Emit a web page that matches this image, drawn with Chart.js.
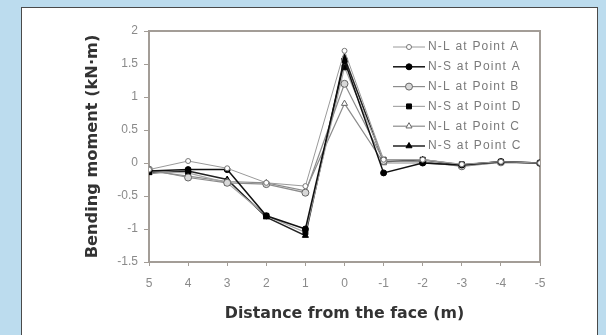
<!DOCTYPE html>
<html><head><meta charset="utf-8">
<script src="https://cdn.jsdelivr.net/npm/chart.js@4/dist/chart.umd.min.js"></script>
<style>
html,body{margin:0;padding:0;width:606px;height:335px;overflow:hidden;background:#bcdcee;}
#frame{position:absolute;left:21px;top:7px;width:575px;height:340px;background:#fff;border:1px solid #4a4a4a;}
#wrap{position:absolute;left:0;top:0;width:606px;height:335px;}
</style></head><body>
<div id="frame"></div>
<div id="wrap"><canvas id="c" width="606" height="335"></canvas></div>
<script>
// Distance from the face (m)
const distances = [5, 4, 3, 2, 1, 0, -1, -2, -3, -4, -5];
// Bending moment (kN·m)
const nlPointA = [-0.10, 0.03, -0.08, -0.30, -0.35, 1.70, 0.05, 0.05, -0.02, 0.02, 0.00];
const nsPointA = [-0.12, -0.10, -0.10, -0.80, -1.00, 1.55, -0.15, 0.00, -0.03, 0.02, 0.00];
const nlPointB = [-0.10, -0.22, -0.30, -0.32, -0.45, 1.20, 0.03, 0.02, -0.05, 0.01, 0.00];
const nsPointD = [-0.13, -0.15, -0.30, -0.80, -1.05, 1.45, 0.05, 0.05, -0.02, 0.02, 0.00];
const nlPointC = [-0.12, -0.20, -0.28, -0.30, -0.42, 0.90, 0.00, 0.00, -0.04, 0.01, 0.00];
const nsPointC = [-0.15, -0.12, -0.25, -0.82, -1.10, 1.60, 0.02, 0.05, -0.03, 0.02, 0.00];
const seriesNames = ['N-L at Point A', 'N-S at Point A', 'N-L at Point B', 'N-S at Point D', 'N-L at Point C', 'N-S at Point C'];
const yTickValues = [-1.5, -1, -0.5, 0, 0.5, 1, 1.5, 2];
const xTickValues = [5, 4, 3, 2, 1, 0, -1, -2, -3, -4, -5];

const seriesValues = [nlPointA, nsPointA, nlPointB, nsPointD, nlPointC, nsPointC];
const styles = [
  {line:'#9a9a9a', w:1,   ps:'circle',   r:2.5, bg:'#ffffff', bd:'#777'},
  {line:'#111111', w:1.5, ps:'circle',   r:3,   bg:'#000000', bd:'#000'},
  {line:'#8c8c8c', w:1.2, ps:'circle',   r:3.5, bg:'#d8d8d8', bd:'#666'},
  {line:'#a8a8a8', w:1.2, ps:'rect',     r:3.5, bg:'#000000', bd:'#000'},
  {line:'#8c8c8c', w:1.2, ps:'triangle', r:3.5, bg:'#ffffff', bd:'#666'},
  {line:'#222222', w:1.5, ps:'triangle', r:3.5, bg:'#000000', bd:'#000'}
];

const datasets = seriesValues.map((vals, i) => ({
  label: seriesNames[i],
  data: distances.map((d, j) => ({x: d, y: vals[j]})),
  borderColor: styles[i].line,
  borderWidth: styles[i].w,
  pointStyle: styles[i].ps,
  pointRadius: styles[i].r,
  pointBackgroundColor: styles[i].bg,
  pointBorderColor: styles[i].bd,
  pointBorderWidth: 1,
  tension: 0,
  fill: false
}));

const framePlugin = {
  id: 'frame',
  beforeDatasetsDraw(chart) {
    const {ctx, chartArea: a} = chart;
    ctx.save();
    ctx.strokeStyle = '#a39d97';
    ctx.lineWidth = 2;
    ctx.strokeRect(a.left, a.top, a.right - a.left, a.bottom - a.top);
    ctx.restore();
  }
};

const legendPlugin = {
  id: 'insideLegend',
  afterDraw(chart) {
    const ctx = chart.ctx;
    ctx.save();
    chart.data.datasets.forEach((ds, i) => {
      const y = 47 + i * 19.8;
      ctx.strokeStyle = ds.borderColor;
      ctx.lineWidth = ds.borderWidth;
      ctx.beginPath(); ctx.moveTo(393, y); ctx.lineTo(425, y); ctx.stroke();
      ctx.fillStyle = ds.pointBackgroundColor;
      ctx.strokeStyle = ds.pointBorderColor;
      ctx.lineWidth = 1;
      Chart.helpers.drawPoint(ctx, {pointStyle: ds.pointStyle, radius: ds.pointRadius, rotation: 0, borderWidth: 1}, 409, y);
      ctx.fillStyle = '#7a7a7a';
      ctx.font = '12px "Liberation Sans", Arial, sans-serif';
      if ('letterSpacing' in ctx) ctx.letterSpacing = '1.2px';
      ctx.textBaseline = 'middle';
      ctx.textAlign = 'left';
      ctx.fillText(ds.label, 428, y);
    });
    ctx.restore();
  }
};

new Chart(document.getElementById('c'), {
  type: 'line',
  data: {datasets},
  plugins: [framePlugin, legendPlugin],
  options: {
    responsive: false,
    animation: false,
    layout: {padding: {top: 31, right: 66, left: 0, bottom: 0}},
    plugins: {legend: {display: false}, tooltip: {enabled: false}},
    scales: {
      x: {
        type: 'linear', reverse: true, min: -5, max: 5,
        afterFit(s) { s.height = 73; },
        afterBuildTicks(s) { s.ticks = xTickValues.map(v => ({value: v})); },
        ticks: {color: '#8a8a8a', font: {family: '"Liberation Sans", Arial, sans-serif', size: 12}, padding: 10, maxRotation: 0,
          callback: v => String(v)},
        grid: {drawOnChartArea: false, tickLength: 4, color: '#a39d97'},
        border: {display: false},
        title: {display: true, text: 'Distance from the face (m)', color: '#333',
          font: {family: '"DejaVu Sans", Verdana, sans-serif', size: 15.8, weight: 'bold'}, padding: {top: 0, bottom: 12}}
      },
      y: {
        min: -1.5, max: 2,
        afterFit(s) { s.width = 149; },
        afterBuildTicks(s) { s.ticks = yTickValues.map(v => ({value: v})); },
        ticks: {color: '#8a8a8a', font: {family: '"Liberation Sans", Arial, sans-serif', size: 12}, padding: 6,
          callback: v => String(v)},
        grid: {drawOnChartArea: false, tickLength: 5, color: '#a39d97'},
        border: {display: false},
        title: {display: true, text: 'Bending moment (kN·m)', color: '#333',
          font: {family: '"DejaVu Sans", Verdana, sans-serif', size: 16.2, weight: 'bold'}, padding: {top: 83, bottom: 0}}
      }
    }
  }
});
</script>
</body></html>
